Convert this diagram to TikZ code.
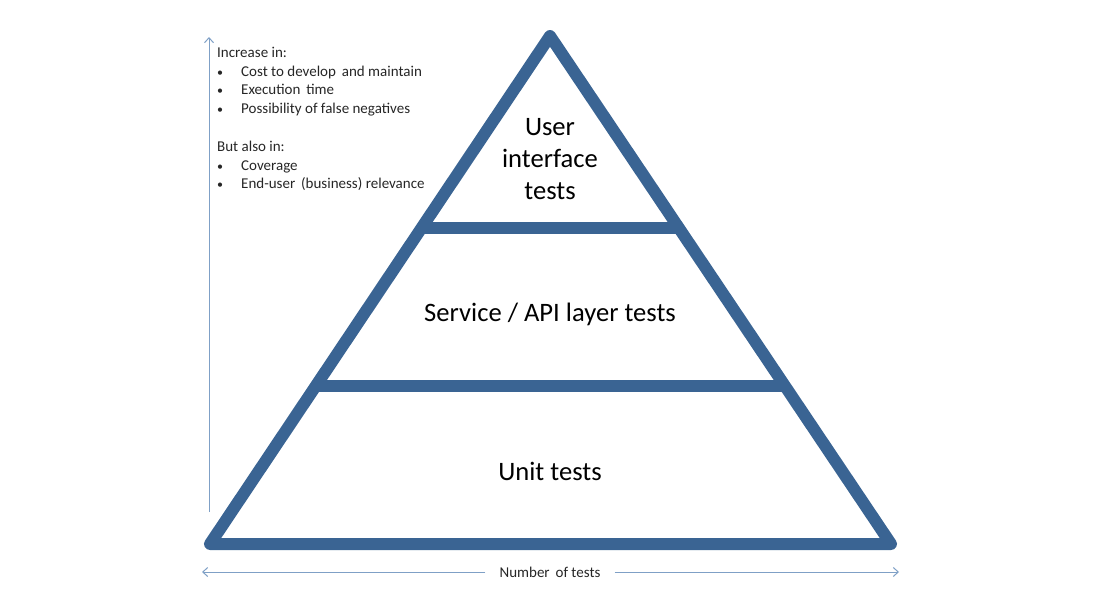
\documentclass[tikz,border=0pt]{standalone}
\usepackage{fontspec}
\setmainfont{Carlito}
\usetikzlibrary{arrows.meta}
\definecolor{pyr}{HTML}{3A6493}
\definecolor{axis}{HTML}{7FA0C6}
\begin{document}
\begin{tikzpicture}[x=1pt,y=-1pt,
  pyrline/.style={draw=pyr,line width=12pt,line join=round,line cap=round},
  axisline/.style={draw=axis,line width=1pt,-{Straight Barb[length=5pt,width=9pt]}},
  small/.style={font=\fontsize{15}{18.7}\selectfont,text=black!85,inner sep=0pt},
  bul/.style={font=\fontsize{12}{18.7}\selectfont,text=black!85,inner sep=0pt},
  big/.style={font=\fontsize{26.6}{32}\selectfont,align=center,inner sep=0pt}]
\useasboundingbox (0,0) rectangle (1100,605);
\coordinate (apex) at (550,36);
\coordinate (bl) at (210,544);
\coordinate (br) at (891,544);
\coordinate (t1l) at (421,228);
\coordinate (t1r) at (679,228);
\coordinate (t2l) at (316,386);
\coordinate (t2r) at (784,386);
\draw[pyrline] (apex) -- (bl) -- (br) -- cycle;
\draw[pyrline,line cap=butt] (t1l) -- (t1r);
\draw[pyrline,line cap=butt] (t2l) -- (t2r);
\node[big] (ui) at (550,159) {User\\interface\\tests};
\node[big] (api) at (550,314) {Service / API layer tests};
\node[big] (unit) at (550,471) {Unit tests};
% vertical axis
\coordinate (vb) at (209,512);
\coordinate (vt) at (209,37);
\draw[axisline] (vb) -- (vt);
% horizontal axis
\node[small] (nt) at (550,572) {Number\, of tests};
\coordinate (hl) at (202,572);
\coordinate (hr) at (899,572);
\draw[axisline] (nt.west) ++(-14,0) -- (hl);
\draw[axisline] (nt.east) ++(14,0) -- (hr);
% text
\node[small,anchor=base west] (inc) at (217,57) {Increase in:};
\foreach \y/\t [count=\i] in {76/Cost to develop\, and maintain,94.5/Execution\, time,113/Possibility of false negatives,170/Coverage,188/End-user\, (business) relevance}{
  \node[bul,anchor=base west] (b\i) at (217,\y) {•};
  \node[small,anchor=base west] (t\i) at (241,\y) {\t};
}
\node[small,anchor=base west] (but) at (217,151) {But also in:};
\end{tikzpicture}
\end{document}
